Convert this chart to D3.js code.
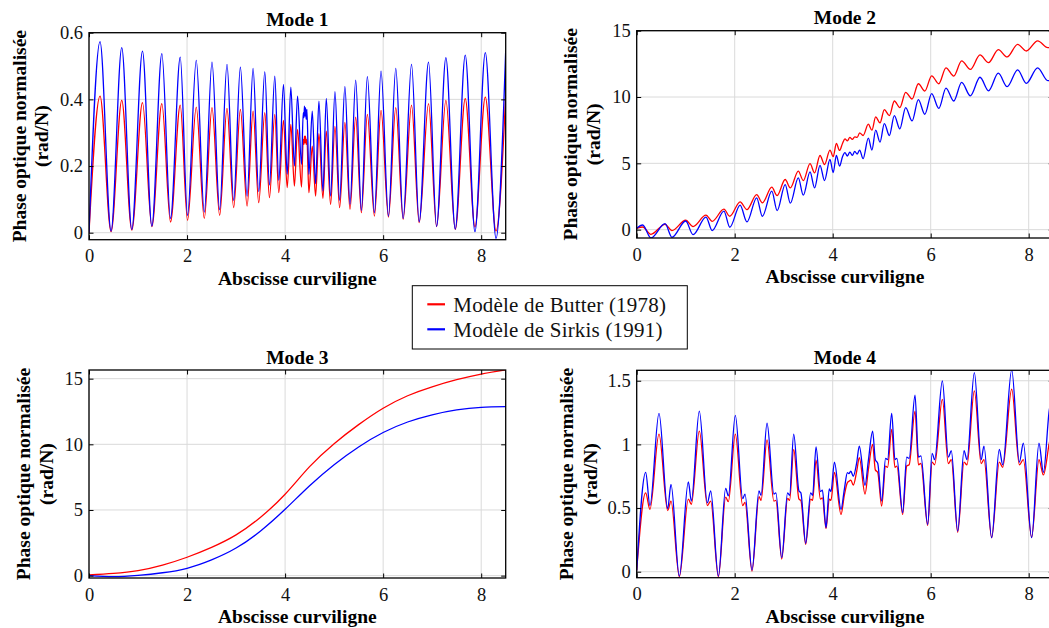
<!DOCTYPE html>
<html><head><meta charset="utf-8">
<script src="https://cdn.jsdelivr.net/npm/d3@7"></script>
<style>
body{margin:0;background:#fff;}
svg text{font-family:"Liberation Serif","Times New Roman",serif;}
</style></head><body>
<svg id="chart" width="1049" height="628"></svg>
<script>
// ---------------- DATA ----------------
const titles = ["Mode 1", "Mode 2", "Mode 3", "Mode 4"];
const seriesNames = ["Modèle de Butter (1978)", "Modèle de Sirkis (1991)"];
const xLabel = "Abscisse curviligne";
const yLabelLines = ["Phase optique normalisée", "(rad/N)"];
const xTicks = [0, 2, 4, 6, 8];
const xTickLabels = ["0", "2", "4", "6", "8"];
const mode1YTicks = [0, 0.2, 0.4, 0.6];
const mode1YTickLabels = ["0", "0.2", "0.4", "0.6"];
const mode2YTicks = [0, 5, 10, 15];
const mode2YTickLabels = ["0", "5", "10", "15"];
const mode3YTicks = [0, 5, 10, 15];
const mode3YTickLabels = ["0", "5", "10", "15"];
const mode4YTicks = [0, 0.5, 1, 1.5];
const mode4YTickLabels = ["0", "0.5", "1", "1.5"];

const mode1X = [0, 0.225, 0.45, 0.668, 0.873, 1.091, 1.282, 1.486, 1.663, 1.861, 2.01, 2.188, 2.352, 2.509, 2.665, 2.815, 2.951, 3.088, 3.225, 3.347, 3.462, 3.586, 3.681, 3.79, 3.871, 3.967, 4.043, 4.117, 4.19, 4.254, 4.335, 4.37, 4.385, 4.395, 4.405, 4.415, 4.43, 4.445, 4.485, 4.554, 4.622, 4.69, 4.772, 4.84, 4.928, 5.017, 5.112, 5.22, 5.324, 5.44, 5.556, 5.678, 5.822, 5.957, 6.108, 6.258, 6.408, 6.579, 6.735, 6.926, 7.09, 7.28, 7.471, 7.675, 7.873, 8.084, 8.303, 8.5];
const mode1Butter = [0, 0.41, 0.003, 0.397, 0.008, 0.39, 0.018, 0.387, 0.032, 0.383, 0.037, 0.377, 0.043, 0.375, 0.052, 0.373, 0.075, 0.37, 0.08, 0.365, 0.09, 0.36, 0.105, 0.355, 0.12, 0.337, 0.135, 0.325, 0.14, 0.31, 0.137, 0.28, 0.265, 0.29, 0.27, 0.29, 0.265, 0.28, 0.12, 0.26, 0.11, 0.297, 0.103, 0.305, 0.085, 0.319, 0.075, 0.331, 0.07, 0.347, 0.06, 0.355, 0.05, 0.367, 0.047, 0.375, 0.04, 0.383, 0.03, 0.387, 0.018, 0.397, 0.01, 0.402, 0.017, 0.407, 0.005, 0.413];
const mode1Sirkis = [0, 0.573, 0.005, 0.555, 0.01, 0.545, 0.02, 0.537, 0.043, 0.527, 0.052, 0.517, 0.062, 0.512, 0.069, 0.505, 0.097, 0.497, 0.11, 0.493, 0.123, 0.483, 0.143, 0.47, 0.157, 0.445, 0.175, 0.437, 0.2, 0.41, 0.205, 0.36, 0.345, 0.38, 0.35, 0.375, 0.34, 0.37, 0.175, 0.365, 0.147, 0.395, 0.125, 0.403, 0.11, 0.423, 0.097, 0.439, 0.085, 0.458, 0.067, 0.468, 0.06, 0.485, 0.05, 0.493, 0.043, 0.505, 0.033, 0.512, 0.019, 0.525, 0.011, 0.533, 0.003, 0.54, -0.017, 0.547];

const mode2X = [0, 0.122, 0.29, 0.578, 0.72, 1.0, 1.15, 1.414, 1.54, 1.78, 1.9, 2.11, 2.25, 2.448, 2.565, 2.757, 2.866, 3.03, 3.135, 3.298, 3.4, 3.537, 3.63, 3.741, 3.833, 3.944, 4.01, 4.075, 4.14, 4.2, 4.25, 4.3, 4.35, 4.4, 4.45, 4.5, 4.55, 4.62, 4.727, 4.80, 4.877, 4.965, 5.054, 5.156, 5.258, 5.37, 5.489, 5.62, 5.748, 5.88, 6.02, 6.165, 6.312, 6.47, 6.632, 6.81, 7.006, 7.18, 7.38, 7.56, 7.775, 7.95, 8.183, 8.39, 8.5];
const mode2Butter = [0.1, 0.2, -0.35, 0.4, -0.07, 0.71, 0.23, 1.09, 0.63, 1.54, 1.01, 2.09, 1.51, 2.64, 2.02, 3.2, 2.57, 3.78, 3.15, 4.41, 3.7, 4.98, 4.28, 5.59, 4.91, 6.0, 5.5, 6.5, 5.97, 6.5, 6.85, 6.7, 6.95, 6.8, 7.0, 6.95, 7.3, 7.1, 7.95, 7.5, 8.5, 8.05, 9.05, 8.6, 9.7, 9.2, 10.35, 9.85, 11.0, 10.45, 11.6, 11.0, 12.2, 11.58, 12.72, 12.08, 13.17, 12.59, 13.57, 13.02, 13.97, 13.47, 14.23, 13.72, 13.8];
const mode2Sirkis = [0.1, 0.35, -0.63, 0.45, -0.58, 0.65, -0.38, 0.95, -0.07, 1.4, 0.18, 1.85, 0.58, 2.4, 1.01, 2.9, 1.44, 3.4, 2.0, 3.9, 2.6, 4.35, 3.15, 4.85, 3.7, 5.3, 4.3, 5.6, 4.79, 5.5, 5.8, 5.55, 5.85, 5.6, 5.9, 5.7, 6.0, 5.35, 6.9, 6.0, 7.5, 6.6, 8.0, 7.1, 8.6, 7.6, 9.2, 8.2, 9.8, 8.7, 10.25, 9.14, 10.67, 9.7, 11.1, 10.09, 11.49, 10.47, 11.8, 10.78, 12.05, 11.03, 12.2, 11.23, 11.3];

const mode3X = [0, 0.5, 1.0, 1.5, 2.0, 2.5, 3.0, 3.5, 4.0, 4.5, 5.0, 5.5, 6.0, 6.5, 7.0, 7.5, 8.0, 8.5];
const mode3Butter = [0.05, 0.17, 0.38, 0.8, 1.4, 2.15, 3.1, 4.45, 6.2, 8.3, 10.05, 11.5, 12.75, 13.7, 14.38, 14.92, 15.35, 15.67];
const mode3Sirkis = [0.0, -0.08, 0.02, 0.22, 0.56, 1.2, 2.1, 3.4, 5.05, 6.85, 8.45, 9.8, 10.9, 11.7, 12.25, 12.62, 12.82, 12.87];

const mode4X = [0, 0.183, 0.27, 0.455, 0.632, 0.70, 0.87, 1.054, 1.115, 1.278, 1.442, 1.51, 1.667, 1.816, 1.87, 2.013, 2.163, 2.21, 2.353, 2.496, 2.537, 2.66, 2.8, 2.84, 2.96, 3.08, 3.12, 3.204, 3.312, 3.35, 3.449, 3.55, 3.59, 3.66, 3.75, 3.79, 3.864, 3.93, 3.965, 4.035, 4.17, 4.237, 4.3, 4.33, 4.37, 4.42, 4.49, 4.543, 4.66, 4.727, 4.815, 4.87, 4.92, 4.999, 5.08, 5.12, 5.204, 5.27, 5.31, 5.428, 5.51, 5.56, 5.68, 5.75, 5.80, 5.938, 6.03, 6.08, 6.238, 6.36, 6.42, 6.551, 6.68, 6.74, 6.891, 7.03, 7.087, 7.244, 7.40, 7.47, 7.653, 7.81, 7.89, 8.06, 8.21, 8.30, 8.42, 8.5];
const mode4Sirkis = [0.01, 0.78, 0.52, 1.244, 0.495, 0.686, -0.034, 0.705, 0.555, 1.262, 0.54, 0.634, -0.034, 0.654, 0.595, 1.228, 0.574, 0.61, 0.013, 0.635, 0.6, 1.166, 0.61, 0.62, 0.11, 0.62, 0.6, 1.08, 0.634, 0.62, 0.223, 0.62, 0.6, 0.98, 0.63, 0.64, 0.346, 0.65, 0.63, 0.86, 0.49, 0.645, 0.778, 0.77, 0.79, 0.75, 0.856, 0.987, 0.679, 0.87, 1.105, 0.88, 0.85, 0.555, 0.89, 0.88, 1.244, 0.88, 0.89, 0.464, 0.9, 0.89, 1.386, 0.9, 0.91, 0.372, 0.93, 0.88, 1.498, 0.9, 0.95, 0.32, 0.95, 0.88, 1.563, 0.88, 0.987, 0.267, 0.96, 0.84, 1.585, 0.86, 1.009, 0.267, 1.009, 0.78, 1.27, 1.4];
const mode4Butter = [0.01, 0.62, 0.49, 1.08, 0.48, 0.555, -0.04, 0.57, 0.53, 1.105, 0.52, 0.555, -0.04, 0.586, 0.55, 1.08, 0.52, 0.545, 0.005, 0.59, 0.56, 1.035, 0.555, 0.56, 0.10, 0.575, 0.56, 0.96, 0.57, 0.56, 0.215, 0.57, 0.56, 0.877, 0.57, 0.58, 0.338, 0.57, 0.56, 0.78, 0.45, 0.6, 0.7, 0.71, 0.72, 0.68, 0.79, 0.896, 0.61, 0.8, 1.0, 0.8, 0.78, 0.516, 0.83, 0.82, 1.118, 0.82, 0.83, 0.45, 0.83, 0.84, 1.262, 0.84, 0.85, 0.364, 0.86, 0.84, 1.354, 0.85, 0.88, 0.31, 0.86, 0.84, 1.42, 0.85, 0.88, 0.267, 0.86, 0.82, 1.433, 0.84, 0.88, 0.27, 0.88, 0.76, 1.01, 1.15];

// ---------------- DRAWING ----------------
const colors = ["#ff0000", "#0000ff"];
const svg = d3.select("#chart");
svg.append("rect").attr("width", 1049).attr("height", 628).attr("fill", "#fff");

const panels = [
  {title: titles[0], xs: mode1X, ys: [mode1Butter, mode1Sirkis], yTicks: mode1YTicks, yTickLabels: mode1YTickLabels,
   left: 89, right: 505.7, top: 32.7, bottom: 239.7, yDomain: [-0.021, 0.6], lab: [63.5, 41], curve: d3.curveMonotoneX},
  {title: titles[1], xs: mode2X, ys: [mode2Butter, mode2Sirkis], yTicks: mode2YTicks, yTickLabels: mode2YTickLabels,
   left: 636.7, right: 1053.2, top: 30.7, bottom: 238, yDomain: [-0.63, 15], lab: [59.7, 37], curve: d3.curveMonotoneX},
  {title: titles[2], xs: mode3X, ys: [mode3Butter, mode3Sirkis], yTicks: mode3YTicks, yTickLabels: mode3YTickLabels,
   left: 89, right: 505.7, top: 370, bottom: 578, yDomain: [-0.18, 15.66], lab: [59.5, 36.5], curve: d3.curveNatural},
  {title: titles[3], xs: mode4X, ys: [mode4Butter, mode4Sirkis], yTicks: mode4YTicks, yTickLabels: mode4YTickLabels,
   left: 636.7, right: 1053.2, top: 370.3, bottom: 577.7, yDomain: [-0.047, 1.582], lab: [64, 40], curve: d3.curveMonotoneX}
];

function styleAxis(s) {
  s.attr("font-family", null).attr("font-size", null);
  s.select(".domain").remove();
  s.selectAll(".tick line").attr("stroke", "#000").attr("stroke-width", 1);
  s.selectAll(".tick text").attr("fill", "#111").style("font-size", "18.5px");
}

panels.forEach((p, i) => {
  const g = svg.append("g");
  const x = d3.scaleLinear().domain([0, 8.5]).range([p.left, p.right]);
  const y = d3.scaleLinear().domain(p.yDomain).range([p.bottom, p.top]);
  const clipId = "clip" + i;
  svg.append("clipPath").attr("id", clipId).append("rect")
    .attr("x", p.left).attr("y", p.top).attr("width", p.right - p.left).attr("height", p.bottom - p.top);

  // grid
  g.append("g").selectAll("line").data(xTicks).join("line")
    .attr("x1", d => x(d)).attr("x2", d => x(d)).attr("y1", p.top).attr("y2", p.bottom)
    .attr("stroke", "#dadada").attr("stroke-width", 1);
  g.append("g").selectAll("line").data(p.yTicks).join("line")
    .attr("y1", d => y(d)).attr("y2", d => y(d)).attr("x1", p.left).attr("x2", p.right)
    .attr("stroke", "#dadada").attr("stroke-width", 1);

  // series
  p.ys.forEach((arr, k) => {
    const line = d3.line().x((d, j) => x(p.xs[j])).y(d => y(d)).curve(p.curve);
    g.append("path").datum(arr).attr("d", line).attr("fill", "none")
      .attr("stroke", colors[k]).attr("stroke-width", 1.3).attr("stroke-linejoin", "round")
      .attr("clip-path", `url(#${clipId})`);
  });

  // axes
  g.append("g").attr("transform", `translate(0,${p.bottom})`)
    .call(d3.axisBottom(x).tickValues(xTicks).tickFormat((d, j) => xTickLabels[j]).tickSizeInner(-4.5).tickSizeOuter(0).tickPadding(9.5))
    .call(styleAxis);
  g.append("g").attr("transform", `translate(0,${p.top})`)
    .call(d3.axisTop(x).tickValues(xTicks).tickFormat("").tickSizeInner(-4.5).tickSizeOuter(0))
    .call(styleAxis);
  g.append("g").attr("transform", `translate(${p.left},0)`)
    .call(d3.axisLeft(y).tickValues(p.yTicks).tickFormat((d, j) => p.yTickLabels[j]).tickSizeInner(-4.5).tickSizeOuter(0).tickPadding(6))
    .call(styleAxis);
  g.append("g").attr("transform", `translate(${p.right},0)`)
    .call(d3.axisRight(y).tickValues(p.yTicks).tickFormat("").tickSizeInner(-4.5).tickSizeOuter(0))
    .call(styleAxis);

  // frame
  g.append("rect").attr("x", p.left).attr("y", p.top).attr("width", p.right - p.left).attr("height", p.bottom - p.top)
    .attr("fill", "none").attr("stroke", "#000").attr("stroke-width", 1.3);

  // title & labels
  const cx = (p.left + p.right) / 2, cy = (p.top + p.bottom) / 2;
  g.append("text").attr("x", cx).attr("y", p.top - 6.5).attr("text-anchor", "middle")
    .style("font-weight", "bold").style("font-size", "19.5px").text(p.title);
  g.append("text").attr("x", cx).attr("y", p.bottom + 45).attr("text-anchor", "middle")
    .style("font-weight", "bold").style("font-size", "19.5px").text(xLabel);
  yLabelLines.forEach((t, k) => {
    g.append("text").attr("transform", `translate(${p.left - p.lab[k]},${cy}) rotate(-90)`)
      .attr("text-anchor", "middle").style("font-weight", "bold").style("font-size", "19.5px").text(t);
  });
});

// legend
const lg = svg.append("g");
lg.append("rect").attr("x", 412.3).attr("y", 285.7).attr("width", 275).attr("height", 63.3)
  .attr("fill", "#fff").attr("stroke", "#000").attr("stroke-width", 1);
seriesNames.forEach((name, k) => {
  const yy = 304.3 + k * 25;
  lg.append("line").attr("x1", 427.3).attr("x2", 445).attr("y1", yy).attr("y2", yy)
    .attr("stroke", colors[k]).attr("stroke-width", 2.2);
  lg.append("text").attr("x", 453.3).attr("y", yy + 7.2).style("font-size", "21px")
    .style("letter-spacing", "0.2px").attr("fill", "#111").text(name);
});
</script>
</body></html>
